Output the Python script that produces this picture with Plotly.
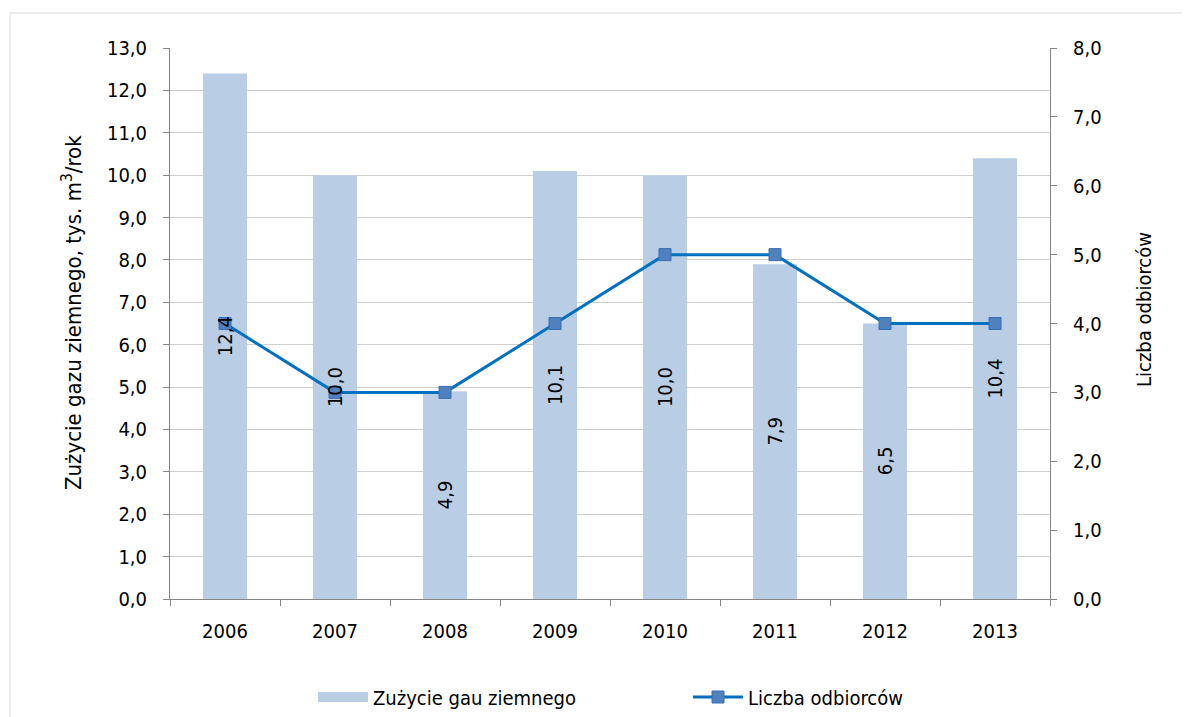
import plotly.graph_objects as go

years = ["2006", "2007", "2008", "2009", "2010", "2011", "2012", "2013"]
gas_use = [12.4, 10.0, 4.9, 10.1, 10.0, 7.9, 6.5, 10.4]
customers = [4, 3, 3, 4, 5, 5, 4, 4]

bar_name = "Zużycie gau ziemnego"
line_name = "Liczba odbiorców"
left_title = "Zużycie gazu ziemnego, tys. m<sup>3</sup>/rok"
right_title = "Liczba odbiorców"

# page has an 8px body margin; size the figure so the plot lands where the reference has it
W, H = 1182, 709
L, R, T, B = 162, 140, 40, 118
pw, ph = W - L - R, H - T - B
plot_bottom = H - B


def px_x(px):  # figure-pixel x -> paper coordinate
    return (px - L) / pw


def px_y(py):  # figure-pixel y (from top) -> paper coordinate
    return (plot_bottom - py) / ph


FONT = "DejaVu Sans Condensed, DejaVu Sans, sans-serif"
tick_font = dict(family=FONT, size=20, color="#000000")
bar_color = "#B9CDE5"
axis_grey = "#868686"

fig = go.Figure()
fig.add_trace(go.Bar(
    x=years, y=gas_use, name=bar_name, showlegend=False,
    marker=dict(color=bar_color, line=dict(width=0)),
    width=0.4,
))
# legend-only entry so the legend key is a wide rectangle like the reference
fig.add_trace(go.Scatter(
    x=years, y=[None] * len(years), name=bar_name, mode="lines",
    line=dict(color=bar_color, width=12), hoverinfo="skip",
))
fig.add_trace(go.Scatter(
    x=years, y=customers, name=line_name, yaxis="y2", mode="lines+markers",
    line=dict(color="#0070C0", width=3),
    marker=dict(symbol="square", size=12, color="#4F81BD", line=dict(color="#3A6DB5", width=1)),
))

# value labels drawn as annotations so they sit above the line, like the reference
annotations = [
    dict(x=i, y=v / 2, xref="x", yref="y", text=f"{v:.1f}".replace(".", ","),
         showarrow=False, textangle=-90, font=dict(family=FONT, size=20, color="#000000"))
    for i, v in enumerate(gas_use)
]
# axis titles (placed like the reference, slightly above the plot's vertical centre)
annotations += [
    dict(x=px_x(64), y=px_y(305), xref="paper", yref="paper", text=left_title, showarrow=False,
         textangle=-90, xanchor="center", yanchor="middle",
         font=dict(family=FONT, size=22, color="#000000")),
    dict(x=px_x(1136), y=px_y(302), xref="paper", yref="paper", text=right_title, showarrow=False,
         textangle=-90, xanchor="center", yanchor="middle",
         font=dict(family=FONT, size=20, color="#000000")),
]

fig.update_layout(
    width=W, height=H,
    margin=dict(l=L, r=R, t=T, b=B, autoexpand=False),
    paper_bgcolor="white", plot_bgcolor="white",
    separators=", ",
    showlegend=True,
    legend=dict(orientation="h", x=0.5 + 78 / pw, xanchor="center", y=px_y(689), yanchor="middle",
                font=dict(family=FONT, size=20, color="#000000"),
                itemwidth=50, entrywidthmode="pixels", entrywidth=310, traceorder="normal"),
    xaxis=dict(type="category", range=[-0.5, len(years) - 0.5], showline=True, linecolor=axis_grey,
               linewidth=1, ticks="outside", ticklen=6, tickcolor=axis_grey, tickson="boundaries",
               tickfont=tick_font, showgrid=False, zeroline=False, ticklabelstandoff=14, tickangle=0),
    yaxis=dict(range=[0, 13], dtick=1, tickformat=".1f", showline=True, linecolor=axis_grey,
               ticks="outside", ticklen=6, tickcolor=axis_grey, tickfont=tick_font,
               ticklabelstandoff=12,
               showgrid=True, gridcolor="#CFCFCF", gridwidth=1, zeroline=False),
    yaxis2=dict(range=[0, 8], dtick=1, tickformat=".1f", overlaying="y", side="right",
                showline=True, linecolor=axis_grey, ticks="outside", ticklen=6, tickcolor=axis_grey,
                tickfont=tick_font, showgrid=False, zeroline=False, ticklabelstandoff=12),
    annotations=annotations,
    shapes=[dict(type="rect", xref="paper", yref="paper",
                 x0=px_x(2), x1=px_x(W + 20),
                 y0=px_y(H + 20), y1=px_y(5),
                 line=dict(color="#D9D9D9", width=1), fillcolor="rgba(0,0,0,0)", layer="below")],
)

fig.write_html("out.html")
